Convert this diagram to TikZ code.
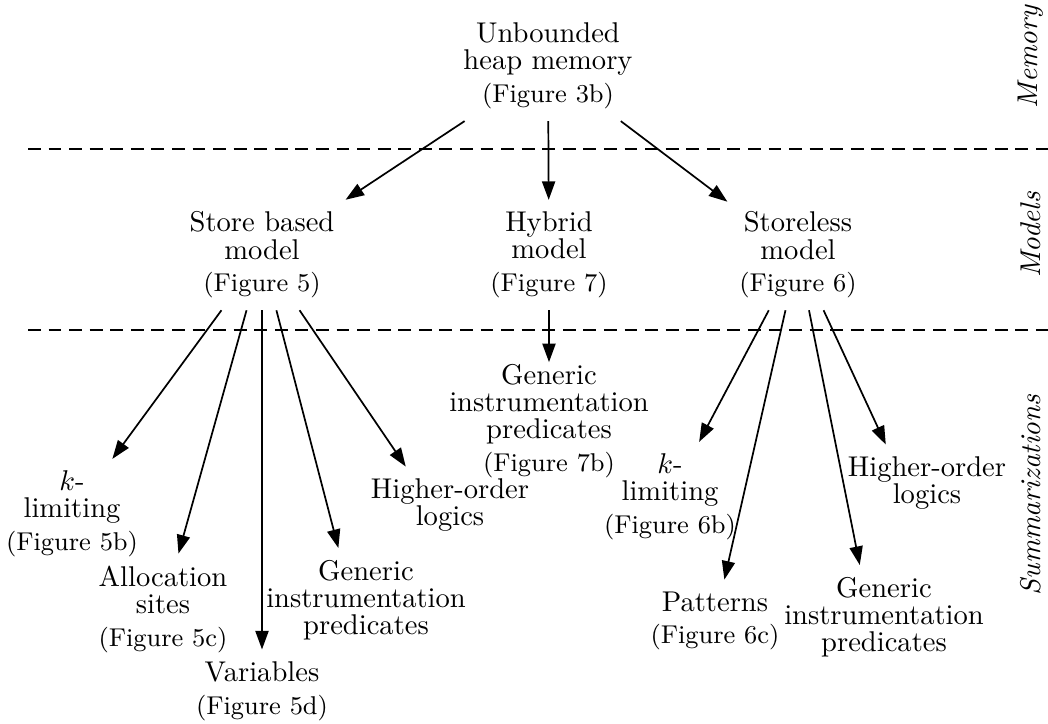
\documentclass[tikz,border=0pt]{standalone}
\usepackage{amsmath,amssymb}
\usetikzlibrary{arrows.meta}

\newcommand{\lblfont}{\fontsize{10pt}{9.5pt}\selectfont}
\newcommand{\fig}[1]{\\[2pt]{\small (Figure #1)}}

\begin{document}
\begin{tikzpicture}[x=0.35pt,y=-0.35pt,
    lbl/.style={align=center,inner sep=4pt,font=\lblfont},
    edge/.style={-{Triangle[length=6.5pt,width=4.6pt]},line width=0.6pt},
    sep/.style={dash pattern=on 4.5pt off 2.7pt,line width=0.75pt},
    side/.style={rotate=90,font=\itshape}]
    \useasboundingbox (0,0) rectangle (1048,724);

    \node[lbl] (heap) at (548,66) {Unbounded\\heap memory\fig{3b}};

    \node[lbl] (store) at (262,255) {Store based\\model\fig{5}};
    \node[lbl] (hybrid) at (549,255) {Hybrid\\model\fig{7}};
    \node[lbl] (storeless) at (798,255) {Storeless\\model\fig{6}};

    \node[lbl] (sklim) at (72,514) {$k$-\\limiting\fig{5b}};
    \node[lbl] (salloc) at (163,609) {Allocation\\sites\fig{5c}};
    \node[lbl] (svar) at (262,691) {Variables\fig{5d}};
    \node[lbl] (sgen) at (366,600) {Generic\\instrumentation\\predicates};
    \node[lbl] (shigh) at (450,505) {Higher-order\\logics};

    \node[lbl] (hgen) at (549,421) {Generic\\instrumentation\\predicates\fig{7b}};

    \node[lbl] (lklim) at (670,497) {$k$-\\limiting\fig{6b}};
    \node[lbl] (lpat) at (715,621) {Patterns\fig{6c}};
    \node[lbl] (lgen) at (884,617) {Generic\\instrumentation\\predicates};
    \node[lbl] (lhigh) at (927,483) {Higher-order\\logics};

    \node[side] (memory) at (1031,57) {Memory};
    \node[side] (models) at (1031,235) {Models};
    \node[side] (summ) at (1031,495) {Summarizations};

    \coordinate (upl) at (28,149);
    \coordinate (upr) at (1048,149);
    \coordinate (lol) at (28,330);
    \coordinate (lor) at (1048,330);
    \draw[sep] (upl) -- (upr);
    \draw[sep] (lol) -- (lor);

    \draw[edge] (heap) -- (store);
    \draw[edge] (heap) -- (hybrid);
    \draw[edge] (heap) -- (storeless);

    \draw[edge] (store) -- (sklim);
    \draw[edge] (store) -- (salloc);
    \draw[edge] (store) -- (svar);
    \draw[edge] (store) -- (sgen.118);
    \draw[edge] (store) -- (shigh.139);

    \draw[edge,shorten >=-3.5pt] (hybrid) -- (hgen);

    \draw[edge] (storeless) -- (lklim);
    \draw[edge] (storeless) -- (lpat);
    \draw[edge] (storeless) -- (lgen.115);
    \draw[edge] (storeless) -- (lhigh.137);
\end{tikzpicture}
\end{document}
